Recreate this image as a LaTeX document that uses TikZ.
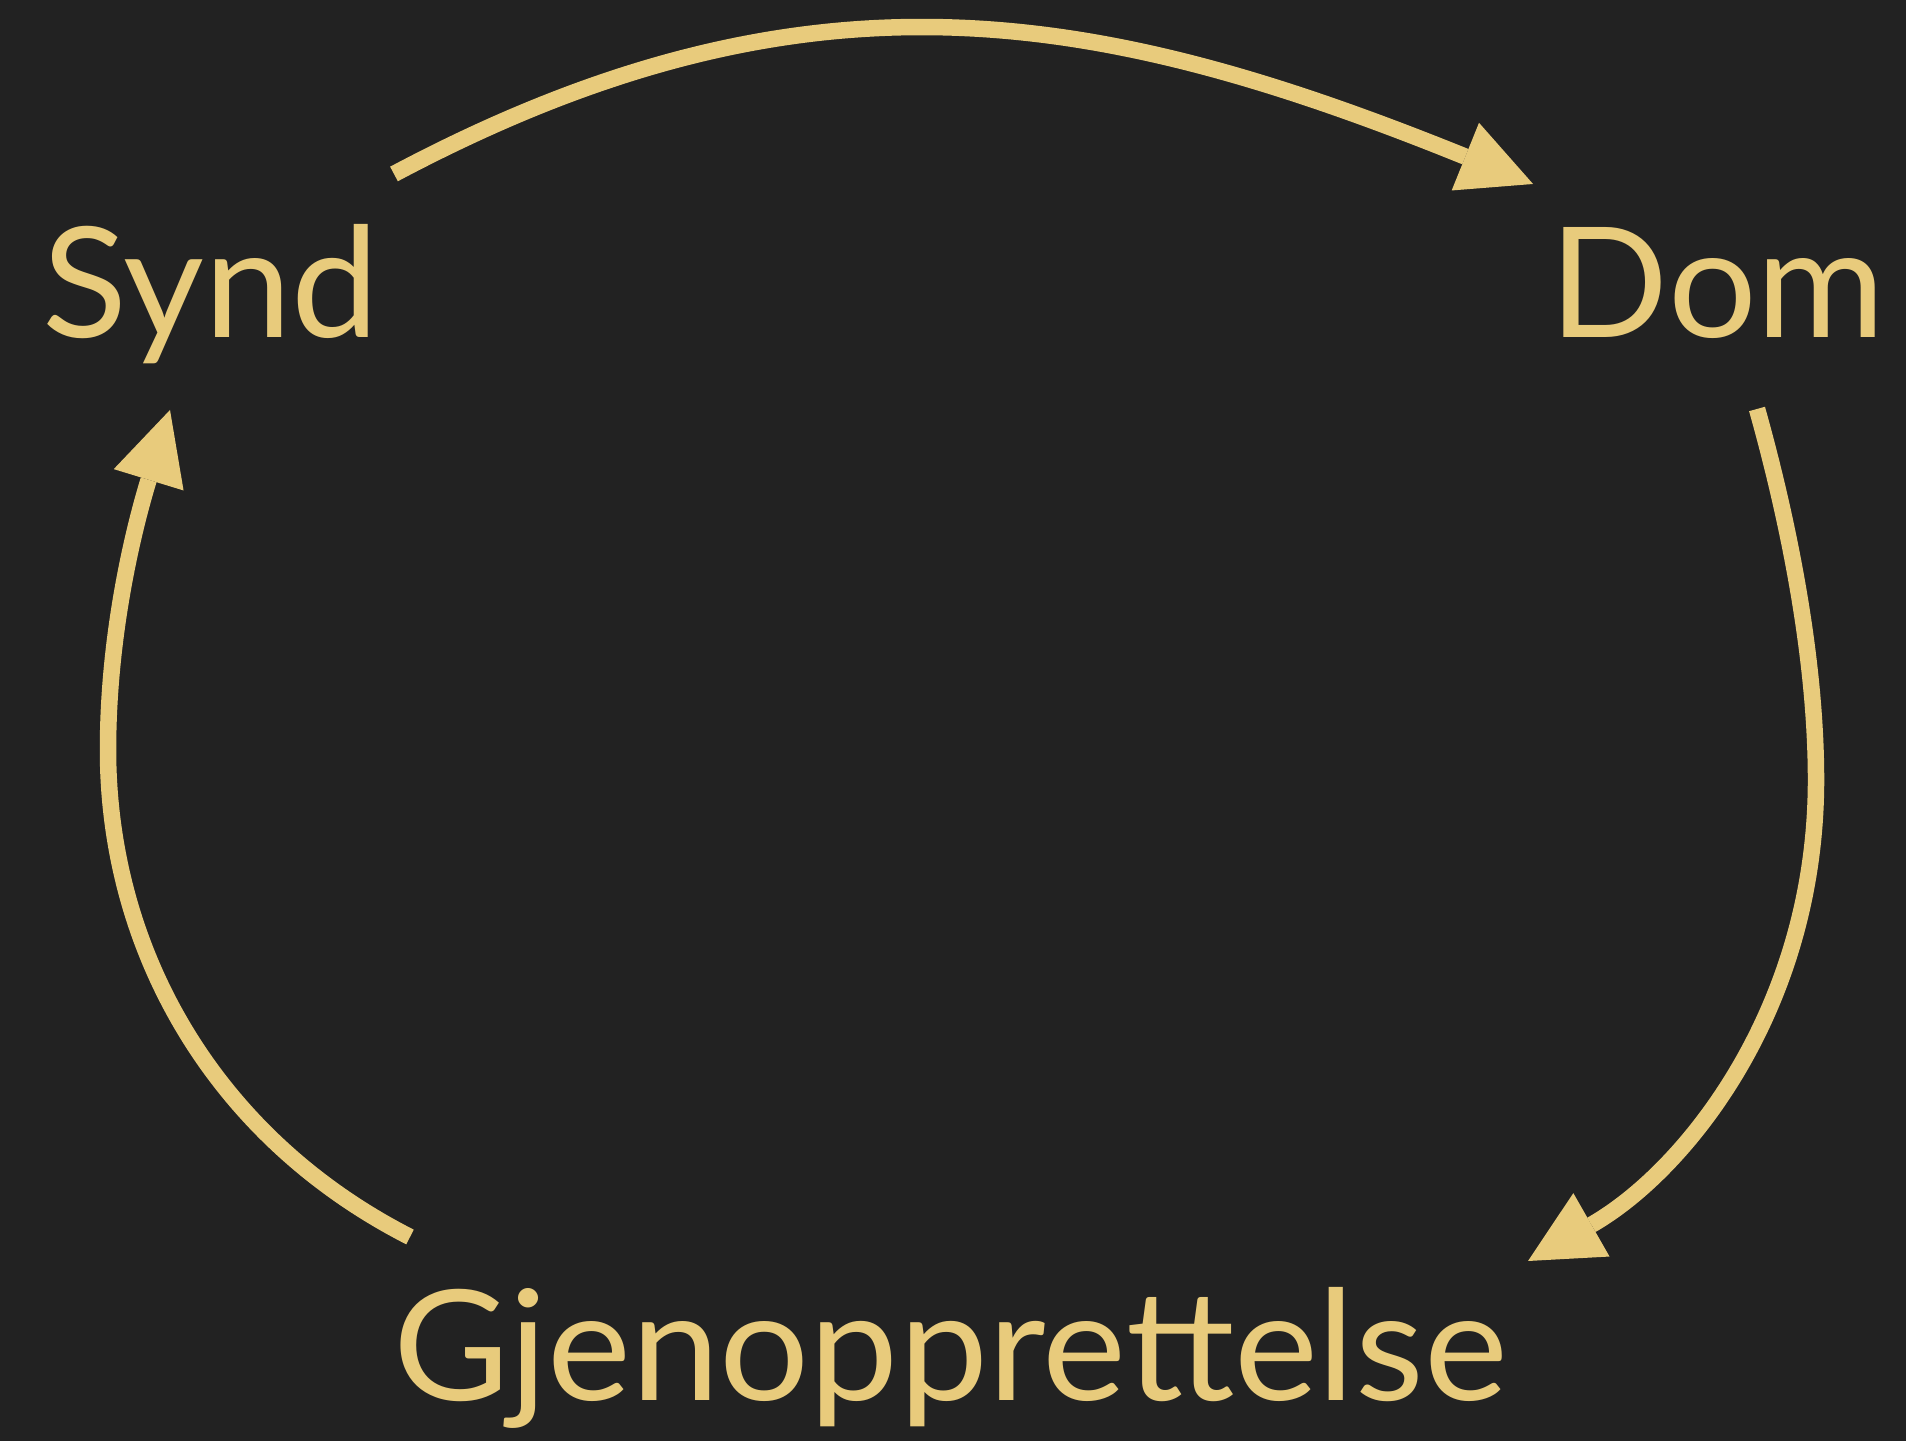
\documentclass[tikz,border=0pt]{standalone}
\usepackage{fontspec}
\setmainfont{Lato}
\usetikzlibrary{arrows.meta}
\definecolor{bakgrunn}{HTML}{222222}
\definecolor{gull}{HTML}{E8CB7C}

\begin{document}
\begin{tikzpicture}[
    ord/.style={text=gull, font=\fontsize{43.7}{50}\selectfont, inner sep=0pt, anchor=base west},
    pil/.style={draw=gull, line width=0.165cm, -{Triangle[length=0.73cm,width=0.73cm,line width=0pt]}}]
  \fill[bakgrunn] (0,0) rectangle (19.06,14.41);
  \useasboundingbox (0,0) rectangle (19.06,14.41);

  % ordene
  \node[ord, xscale=1.02] (synd) at (0.42,11.03) {Synd};
  \node[ord, xscale=1.02] (dom) at (15.49,11.03) {Dom};
  \node[ord, xscale=1.034] (gjen) at (3.93,0.41) {Gjenopprettelse};

  % start- og vendepunkter
  \coordinate (s1) at (3.94,12.67);
  \coordinate (t1) at (15.33,12.57);
  \coordinate (s2) at (17.57,10.32);
  \coordinate (m2) at (18.16,6.61);
  \coordinate (t2) at (15.28,1.80);
  \coordinate (s3) at (4.10,2.04);
  \coordinate (m3) at (1.08,6.91);
  \coordinate (t3) at (1.70,10.31);

  % pilene
  \draw[pil] (s1) to[out=28,in=158,looseness=1.05] (t1);
  \draw[pil] (s2) .. controls +(-74.3:1.2) and +(0,1.2) .. (m2)
                  .. controls +(0,-2.3) and +(29.7:1.8) .. (t2);
  \draw[pil] (s3) .. controls +(153:2.2) and +(0,-2) .. (m3)
                  .. controls +(0,1.2) and +(253:1.2) .. (t3);
\end{tikzpicture}
\end{document}
